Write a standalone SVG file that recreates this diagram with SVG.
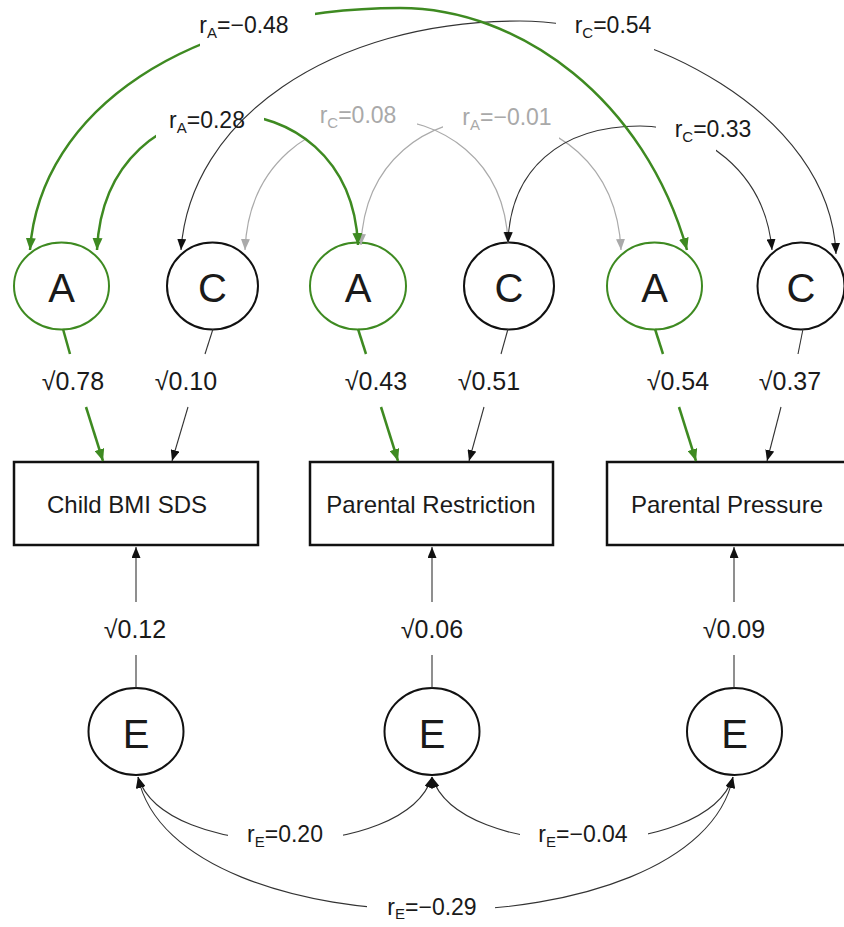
<svg xmlns="http://www.w3.org/2000/svg" width="844" height="927" viewBox="0 0 844 927">
<defs>
<style>
.t{font-family:"Liberation Sans",Arial,sans-serif;fill:#1a1a1a;text-anchor:middle}
.lat{font-size:40px}
.bt{font-size:24px}
.pl{font-size:25px}
.cor{font-size:23px}
.gr{fill:#a9a9a9}
.sub{font-size:15px}
.na{fill:#fff;stroke:#3e8a21;stroke-width:2}
.nk{fill:#fff;stroke:#111;stroke-width:2}
.box{fill:#fff;stroke:#111;stroke-width:2.5}
.cg{fill:none;stroke:#3e8a21;stroke-width:2.5}
.ck{fill:none;stroke:#333;stroke-width:1.1}
.cy{fill:none;stroke:#aaa;stroke-width:1.2}
</style>
<marker id="ag" markerUnits="userSpaceOnUse" markerWidth="12" markerHeight="10" refX="12" refY="5" orient="auto-start-reverse"><path d="M0,0L12,5L0,10z" fill="#3e8a21"/></marker>
<marker id="ak" markerUnits="userSpaceOnUse" markerWidth="11" markerHeight="9" refX="11" refY="4.5" orient="auto-start-reverse"><path d="M0,0L11,4.5L0,9z" fill="#111"/></marker>
<marker id="ay" markerUnits="userSpaceOnUse" markerWidth="11" markerHeight="9" refX="11" refY="4.5" orient="auto-start-reverse"><path d="M0,0L11,4.5L0,9z" fill="#aaa"/></marker>
<mask id="m1" maskUnits="userSpaceOnUse" x="0" y="0" width="844" height="927"><rect width="844" height="927" fill="#fff"/><rect x="200" y="0" width="115" height="55" fill="#000"/></mask>
<mask id="m2" maskUnits="userSpaceOnUse" x="0" y="0" width="844" height="927"><rect width="844" height="927" fill="#fff"/><rect x="156" y="90" width="108" height="60" fill="#000"/></mask>
<mask id="m3" maskUnits="userSpaceOnUse" x="0" y="0" width="844" height="927"><rect width="844" height="927" fill="#fff"/><rect x="556" y="0" width="98" height="55" fill="#000"/></mask>
<mask id="m4" maskUnits="userSpaceOnUse" x="0" y="0" width="844" height="927"><rect width="844" height="927" fill="#fff"/><rect x="306" y="90" width="111" height="55" fill="#000"/></mask>
<mask id="m5" maskUnits="userSpaceOnUse" x="0" y="0" width="844" height="927"><rect width="844" height="927" fill="#fff"/><rect x="443" y="90" width="116" height="55" fill="#000"/></mask>
<mask id="m6" maskUnits="userSpaceOnUse" x="0" y="0" width="844" height="927"><rect width="844" height="927" fill="#fff"/><rect x="656" y="100" width="60" height="60" fill="#000"/></mask>
<mask id="m7" maskUnits="userSpaceOnUse" x="0" y="0" width="844" height="927"><rect width="844" height="927" fill="#fff"/><rect x="228" y="815" width="115" height="40" fill="#000"/></mask>
<mask id="m8" maskUnits="userSpaceOnUse" x="0" y="0" width="844" height="927"><rect width="844" height="927" fill="#fff"/><rect x="520" y="815" width="128" height="40" fill="#000"/></mask>
<mask id="m9" maskUnits="userSpaceOnUse" x="0" y="0" width="844" height="927"><rect width="844" height="927" fill="#fff"/><rect x="367" y="885" width="128" height="42" fill="#000"/></mask>
</defs>
<rect width="844" height="927" fill="#fff"/>

<g id="nodes">
<g id="A1"><ellipse class="na" cx="61.5" cy="286" rx="47.5" ry="43.5"/><text class="t lat" x="61.5" y="302">A</text></g>
<g id="C1"><ellipse class="nk" cx="212.5" cy="286" rx="45.5" ry="43.5"/><text class="t lat" x="212.5" y="302">C</text></g>
<g id="A2"><ellipse class="na" cx="358" cy="286" rx="48" ry="43.5"/><text class="t lat" x="358" y="302">A</text></g>
<g id="C2"><ellipse class="nk" cx="509" cy="286" rx="45" ry="43.5"/><text class="t lat" x="509" y="302">C</text></g>
<g id="A3"><ellipse class="na" cx="654.5" cy="286" rx="47.5" ry="43.5"/><text class="t lat" x="654.5" y="302">A</text></g>
<g id="C3"><ellipse class="nk" cx="801" cy="286" rx="43.5" ry="43.5"/><text class="t lat" x="801" y="302">C</text></g>
<g id="BMI"><rect class="box" x="14" y="462" width="244" height="83"/><text class="t bt" x="127" y="513">Child BMI SDS</text></g>
<g id="Restriction"><rect class="box" x="310" y="462" width="243" height="83"/><text class="t bt" x="431" y="513">Parental Restriction</text></g>
<g id="Pressure"><rect class="box" x="607" y="462" width="241" height="83"/><text class="t bt" x="727" y="513">Parental Pressure</text></g>
<g id="E1"><ellipse class="nk" cx="136" cy="731.5" rx="47.5" ry="43.5"/><text class="t lat" x="136" y="748">E</text></g>
<g id="E2"><ellipse class="nk" cx="432" cy="731.5" rx="47.5" ry="43.5"/><text class="t lat" x="432" y="748">E</text></g>
<g id="E3"><ellipse class="nk" cx="734.5" cy="731.5" rx="47.5" ry="43.5"/><text class="t lat" x="734.5" y="748">E</text></g>
</g>

<g id="connectors">
<path class="cg" d="M63,329L70,354"/><path class="cg" d="M86,407L103,461" marker-end="url(#ag)"/>
<path class="ck" d="M213,329L205,354"/><path class="ck" d="M188,407L172,461" marker-end="url(#ak)"/>
<path class="cg" d="M358,329L366,354"/><path class="cg" d="M381,407L398,461" marker-end="url(#ag)"/>
<path class="ck" d="M508,329L501,354"/><path class="ck" d="M484,407L469,461" marker-end="url(#ak)"/>
<path class="cg" d="M655,329L663,354"/><path class="cg" d="M679,407L696,461" marker-end="url(#ag)"/>
<path class="ck" d="M803,329L798,354"/><path class="ck" d="M781,407L767,461" marker-end="url(#ak)"/>
<path class="ck" d="M136,688L136,655"/><path class="ck" d="M136,602L136,547" marker-end="url(#ak)"/>
<path class="ck" d="M432,688L432,655"/><path class="ck" d="M432,602L432,547" marker-end="url(#ak)"/>
<path class="ck" d="M734,688L734,655"/><path class="ck" d="M734,602L734,547" marker-end="url(#ak)"/>
<path class="cy" mask="url(#m4)" d="M245,250C252,76 502,76 508,243" marker-start="url(#ay)" marker-end="url(#ay)"/>
<path class="cy" mask="url(#m5)" d="M361,245C368,76 613,76 621,250" marker-start="url(#ay)" marker-end="url(#ay)"/>
<path class="ck" mask="url(#m3)" d="M181,250C190,120 330,21 520,21C640,21 830,110 836,254" marker-start="url(#ak)" marker-end="url(#ak)"/>
<path class="ck" mask="url(#m6)" d="M508,243C510,170 560,126 640,126C700,126 765,170 772,250" marker-start="url(#ak)" marker-end="url(#ak)"/>
<path class="cg" mask="url(#m1)" d="M30,250C40,110 190,8 400,8C520,8 645,100 687,250" marker-start="url(#ag)" marker-end="url(#ag)"/>
<path class="cg" mask="url(#m2)" d="M97,250C105,70 350,70 358,245" marker-start="url(#ag)" marker-end="url(#ag)"/>
<path class="ck" mask="url(#m7)" d="M138,777C165,862 405,862 432,777" marker-start="url(#ak)" marker-end="url(#ak)"/>
<path class="ck" mask="url(#m8)" d="M432,777C459,862 706,862 733,777" marker-start="url(#ak)" marker-end="url(#ak)"/>
<path class="ck" mask="url(#m9)" d="M138,777C175,955 697,955 733,777" marker-start="url(#ak)" marker-end="url(#ak)"/>
</g>

<g id="labels">
<text class="t pl" x="73" y="390">√0.78</text>
<text class="t pl" x="186" y="390">√0.10</text>
<text class="t pl" x="376" y="390">√0.43</text>
<text class="t pl" x="489" y="390">√0.51</text>
<text class="t pl" x="678" y="390">√0.54</text>
<text class="t pl" x="790" y="390">√0.37</text>
<text class="t pl" x="135" y="638">√0.12</text>
<text class="t pl" x="432" y="638">√0.06</text>
<text class="t pl" x="734" y="638">√0.09</text>
<text class="t cor" x="244" y="33">r<tspan class="sub" dy="5">A</tspan><tspan dy="-5">=−0.48</tspan></text>
<text class="t cor" x="207" y="128">r<tspan class="sub" dy="5">A</tspan><tspan dy="-5">=0.28</tspan></text>
<text class="t cor" x="613" y="33">r<tspan class="sub" dy="5">C</tspan><tspan dy="-5">=0.54</tspan></text>
<text class="t cor gr" x="358" y="123">r<tspan class="sub" dy="5">C</tspan><tspan dy="-5">=0.08</tspan></text>
<text class="t cor gr" x="507" y="125">r<tspan class="sub" dy="5">A</tspan><tspan dy="-5">=−0.01</tspan></text>
<text class="t cor" x="713" y="137">r<tspan class="sub" dy="5">C</tspan><tspan dy="-5">=0.33</tspan></text>
<text class="t cor" x="285" y="842">r<tspan class="sub" dy="5">E</tspan><tspan dy="-5">=0.20</tspan></text>
<text class="t cor" x="583" y="842">r<tspan class="sub" dy="5">E</tspan><tspan dy="-5">=−0.04</tspan></text>
<text class="t cor" x="432" y="915">r<tspan class="sub" dy="4">E</tspan><tspan dy="-4">=−0.29</tspan></text>
</g>
</svg>
